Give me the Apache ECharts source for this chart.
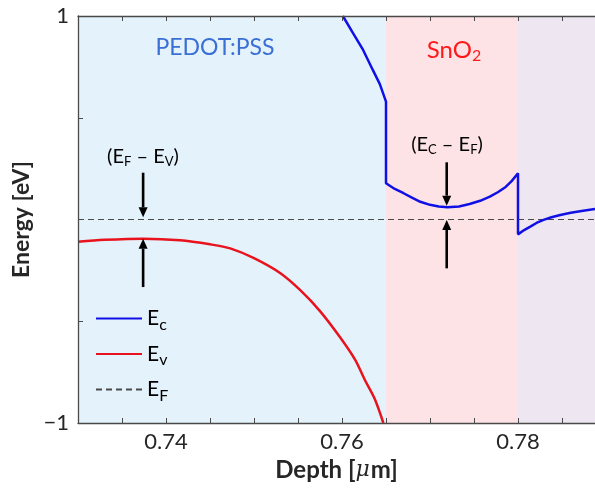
<!DOCTYPE html>
<html>
<head>
<meta charset="utf-8">
<script src="https://cdn.jsdelivr.net/npm/echarts@6/dist/echarts.min.js"></script>
<style>
  html, body { margin: 0; padding: 0; background: #ffffff; }
  #chart { width: 595px; height: 490px; }
</style>
</head>
<body>
<div id="chart"></div>
<script>
// Conduction band edge Ec (eV) versus depth (µm)
const depthEc = [0.7601, 0.7612, 0.7624, 0.7635, 0.7643, 0.7650, 0.7650, 0.7660, 0.7670, 0.7680,
                 0.7689, 0.7700, 0.7710, 0.7720, 0.7733, 0.7745, 0.7757, 0.7768, 0.7777, 0.7786,
                 0.7793, 0.7800, 0.7800, 0.7807, 0.7814, 0.7821, 0.7829, 0.7838, 0.7848, 0.7860,
                 0.7874, 0.78875];
const energyEc = [1.000, 0.920, 0.833, 0.735, 0.665, 0.579, 0.178, 0.150, 0.129, 0.106,
                  0.087, 0.072, 0.064, 0.060, 0.064, 0.076, 0.092, 0.112, 0.134, 0.160,
                  0.190, 0.227, -0.073, -0.052, -0.035, -0.017, -0.002, 0.011, 0.022, 0.033,
                  0.043, 0.052];

// Valence band edge Ev (eV) versus depth (µm)
const depthEv = [0.7300, 0.7330, 0.7374, 0.7416, 0.7450, 0.7473, 0.7500, 0.7530, 0.7552, 0.7575,
                 0.7598, 0.7615, 0.7626, 0.7637, 0.7647];
const energyEv = [-0.109, -0.100, -0.094, -0.102, -0.122, -0.142, -0.190, -0.264, -0.345, -0.450,
                  -0.580, -0.690, -0.789, -0.880, -1.000];

// Fermi level
const depthEf = [0.73, 0.78875];
const energyEf = [0, 0];

// Layer boundaries (µm) and fills
const layerBounds = [0.73, 0.765, 0.78, 0.78875];
const layerColors = ['#e4f2fc', '#fde3e5', '#eee6f0'];

// Gap arrows: [depth, start energy, tip energy]
const gapArrows = [
  [0.7374, 0.230, 0.011],
  [0.7374, -0.332, -0.094],
  [0.7719, 0.281, 0.068],
  [0.7719, -0.240, -0.002]
];

// Axis ticks and labels
const xTickValues = [0.73, 0.735, 0.74, 0.745, 0.75, 0.755, 0.76, 0.765, 0.77, 0.775, 0.78, 0.785];
const xLabelValues = [0.74, 0.76, 0.78];
const yTickValues = [-1, -0.5, 0, 0.5, 1];
const yLabelValues = [-1, 1];

const FONT = 'Lato';
const AXIS_COLOR = '#4a4a4a';
const TEXT_COLOR = '#262626';

const chart = echarts.init(document.getElementById('chart'), null, { renderer: 'canvas' });

const pairs = (xs, ys) => xs.map((x, i) => [x, ys[i]]);

const xAxisCommon = {
  type: 'value',
  min: layerBounds[0],
  max: layerBounds[layerBounds.length - 1],
  z: 10,
  axisLine: { show: true, onZero: false, lineStyle: { color: AXIS_COLOR, width: 1.3 } },
  axisTick: { show: true, inside: true, length: 5, customValues: xTickValues,
              lineStyle: { color: AXIS_COLOR, width: 1 } },
  splitLine: { show: false }
};

function annotation(text, x, y, size, color, subSize, subDrop) {
  return {
    type: 'text', z: 20,
    style: {
      text: text, x: x, y: y, align: 'center', verticalAlign: 'middle',
      font: size + 'px ' + FONT, fill: color,
      rich: { s: { fontSize: subSize, fontFamily: FONT, fill: color, padding: [subDrop, 0, 0, 0] } }
    }
  };
}

chart.setOption({
  animation: false,
  backgroundColor: '#ffffff',
  grid: { left: 78, right: 0, top: 16, bottom: 67, containLabel: false },
  xAxis: [
    Object.assign({}, xAxisCommon, {
      position: 'bottom',
      name: 'Depth [{mu|μ}m]',
      nameLocation: 'middle',
      nameGap: 32,
      nameTextStyle: {
        fontFamily: FONT, fontSize: 24, fontWeight: 'bold', color: TEXT_COLOR,
        rich: { mu: { fontFamily: 'DejaVu Serif', fontStyle: 'italic', fontWeight: 'normal',
                      fontSize: 22, color: TEXT_COLOR, padding: [0, 1, 0, 0] } }
      },
      axisLabel: {
        show: true, customValues: xLabelValues, margin: 8,
        fontFamily: FONT, fontSize: 22, color: TEXT_COLOR,
        formatter: v => v.toFixed(2)
      }
    }),
    Object.assign({}, xAxisCommon, {
      position: 'top',
      axisLabel: { show: false }
    })
  ],
  yAxis: {
    type: 'value',
    min: -1, max: 1,
    z: 10,
    axisLine: { show: true, onZero: false, lineStyle: { color: AXIS_COLOR, width: 1.3 } },
    axisTick: { show: true, inside: true, length: 5, customValues: yTickValues,
                lineStyle: { color: AXIS_COLOR, width: 1 } },
    axisLabel: {
      show: true, customValues: yLabelValues, margin: 9,
      fontFamily: FONT, fontSize: 22, color: TEXT_COLOR,
      formatter: v => (v < 0 ? '\u2212' + Math.abs(v) : String(v))
    },
    splitLine: { show: false },
    name: 'Energy [eV]',
    nameLocation: 'middle',
    nameGap: 41,
    nameRotate: 90,
    nameTextStyle: { fontFamily: FONT, fontSize: 23, fontWeight: 'bold', color: TEXT_COLOR }
  },
  legend: {
    show: true,
    orient: 'vertical',
    left: 90,
    top: 303,
    padding: 5,
    itemWidth: 46,
    itemHeight: 14,
    itemGap: 11,
    itemStyle: { opacity: 0 },
    data: ['Ec', 'Ev', 'EF'],
    formatter: name => 'E{s|' + name.slice(1) + '}',
    textStyle: {
      fontFamily: FONT, fontSize: 21, color: '#000',
      rich: { s: { fontSize: 16, fontFamily: FONT, color: '#000', padding: [12, 0, 0, 0] } }
    }
  },
  graphic: [
    annotation('PEDOT:PSS', 215, 48, 23, '#3a6fd6', 15, 10),
    annotation('SnO{s|2}', 454, 50, 24, '#ff1a1a', 16, 12),
    annotation('(E{s|F} \u2013 E{s|V})', 143, 157, 20, '#000', 13, 10),
    annotation('(E{s|C} \u2013 E{s|F})', 447, 145, 20, '#000', 13, 10)
  ],
  series: [
    {
      name: 'layers',
      type: 'line',
      data: [],
      z: 1,
      silent: true,
      markArea: {
        silent: true,
        data: layerColors.map((c, i) => [
          { xAxis: layerBounds[i], itemStyle: { color: c, opacity: 1 } },
          { xAxis: layerBounds[i + 1] }
        ])
      }
    },
    {
      name: 'Ec',
      type: 'line',
      data: pairs(depthEc, energyEc),
      showSymbol: false,
      symbol: 'none',
      z: 5,
      lineStyle: { color: '#1010e6', width: 2.5 },
      itemStyle: { color: '#1010e6' }
    },
    {
      name: 'Ev',
      type: 'line',
      data: pairs(depthEv, energyEv),
      showSymbol: false,
      symbol: 'none',
      smooth: 0.3,
      z: 5,
      lineStyle: { color: '#e8131c', width: 2.5 },
      itemStyle: { color: '#e8131c' }
    },
    {
      name: 'EF',
      type: 'line',
      data: pairs(depthEf, energyEf),
      showSymbol: false,
      symbol: 'none',
      z: 4,
      lineStyle: { color: '#4a4a4a', width: 1.2, type: [6, 4] },
      itemStyle: { color: '#4a4a4a' }
    },
    {
      name: 'gaps',
      type: 'custom',
      z: 6,
      data: gapArrows,
      renderItem: (params, api) => {
        const p0 = api.coord([api.value(0), api.value(1)]);
        const p1 = api.coord([api.value(0), api.value(2)]);
        const dir = p1[1] > p0[1] ? 1 : -1;
        const head = 10, half = 4.5;
        const base = p1[1] - dir * head;
        return {
          type: 'group',
          children: [
            { type: 'line', shape: { x1: p0[0], y1: p0[1], x2: p1[0], y2: base },
              style: { stroke: '#000', lineWidth: 2.6 } },
            { type: 'polygon', shape: { points: [[p1[0] - half, base], [p1[0] + half, base], [p1[0], p1[1]]] },
              style: { fill: '#000' } }
          ]
        };
      }
    }
  ]
});
</script>
</body>
</html>
